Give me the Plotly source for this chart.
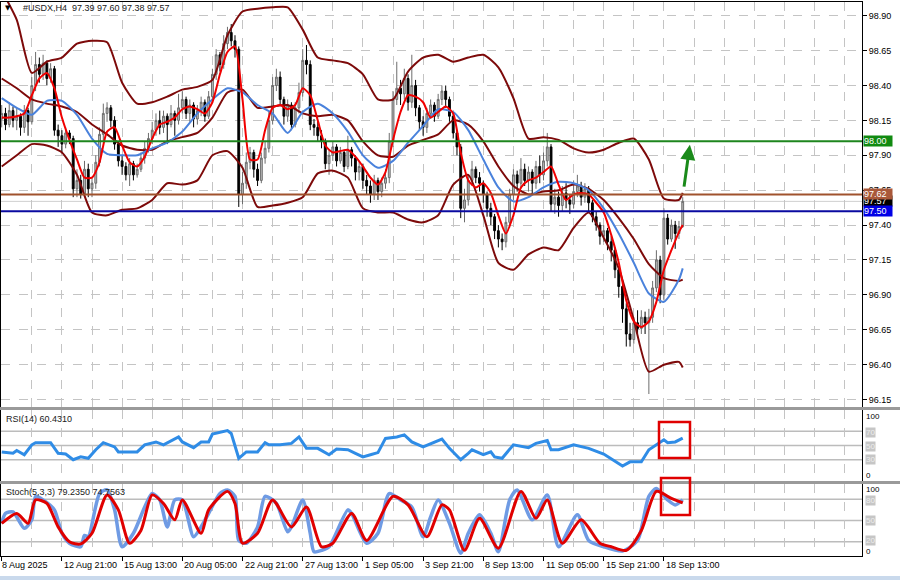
import plotly.graph_objects as go

# ---------------- data ----------------
bar_idx = list(range(182))

opens = [98.16, 98.20, 98.12, 98.22, 98.15, 98.18, 98.10, 98.22, 98.14, 98.40,
         98.55, 98.48, 98.56, 98.45, 98.52, 98.08, 98.04, 97.98, 98.06, 98.02,
         97.66, 97.72, 97.62, 97.80, 97.66, 97.70, 97.85, 98.05, 98.20, 98.24,
         98.15, 97.98, 97.86, 97.82, 97.76, 97.84, 97.76, 97.80, 97.88, 97.95,
         98.02, 98.08, 98.15, 98.10, 98.18, 98.12, 98.20, 98.15, 98.24, 98.30,
         98.20, 98.26, 98.16, 98.22, 98.28, 98.18, 98.32, 98.48, 98.62, 98.55,
         98.70, 98.78, 98.72, 98.66, 97.62, 97.70, 97.85, 97.92, 97.80, 97.72,
         97.88, 97.95, 98.15, 98.40, 98.46, 98.30, 98.18, 98.26, 98.12, 98.24,
         98.35, 98.58, 98.55, 98.12, 98.10, 98.04, 98.00, 97.84, 97.90, 97.96,
         97.86, 97.92, 97.82, 97.94, 97.88, 97.78, 97.82, 97.72, 97.68, 97.62,
         97.72, 97.64, 97.70, 97.74, 98.00, 98.30, 98.38, 98.34, 98.45, 98.28,
         98.40, 98.24, 98.14, 98.10, 98.20, 98.26, 98.18, 98.30, 98.36, 98.30,
         98.18, 98.06, 97.96, 97.52, 97.58, 97.72, 97.80, 97.74, 97.70, 97.62,
         97.52, 97.46, 97.36, 97.30, 97.28, 97.42, 97.62, 97.76, 97.70, 97.80,
         97.72, 97.78, 97.70, 97.82, 97.76, 97.86, 97.96, 97.55, 97.60, 97.54,
         97.63, 97.58, 97.55, 97.64, 97.68, 97.60, 97.66, 97.56, 97.46, 97.40,
         97.32, 97.36, 97.28, 97.22, 97.08, 96.96, 96.80, 96.62, 96.58, 96.70,
         96.66, 96.74, 96.70, 96.74, 96.95, 97.15, 96.90, 97.45, 97.30, 97.40,
         97.34, 97.39]

highs = [98.26, 98.24, 98.28, 98.25, 98.24, 98.20, 98.26, 98.24, 98.46, 98.64,
         98.60, 98.62, 98.58, 98.56, 98.54, 98.12, 98.08, 98.10, 98.08, 98.04,
         97.80, 97.76, 97.86, 97.84, 97.74, 97.90, 98.10, 98.27, 98.28, 98.26,
         98.18, 98.00, 97.90, 97.85, 97.88, 97.86, 97.84, 97.92, 98.00, 98.06,
         98.14, 98.20, 98.22, 98.22, 98.20, 98.26, 98.22, 98.34, 98.36, 98.32,
         98.30, 98.28, 98.26, 98.32, 98.30, 98.36, 98.52, 98.66, 98.64, 98.76,
         98.82, 98.84, 98.76, 98.68, 97.78, 97.92, 97.96, 97.94, 97.84, 97.92,
         98.00, 98.22, 98.46, 98.52, 98.50, 98.32, 98.30, 98.28, 98.28, 98.42,
         98.66, 98.69, 98.58, 98.16, 98.14, 98.08, 98.02, 97.94, 98.00, 97.98,
         97.96, 97.94, 98.04, 97.96, 97.90, 97.86, 97.84, 97.76, 97.72, 97.76,
         97.74, 97.74, 97.80, 98.06, 98.36, 98.57, 98.44, 98.52, 98.48, 98.62,
         98.44, 98.26, 98.18, 98.24, 98.30, 98.28, 98.34, 98.40, 98.40, 98.32,
         98.20, 98.08, 97.98, 97.66, 97.76, 97.86, 97.82, 97.78, 97.72, 97.64,
         97.56, 97.48, 97.40, 97.34, 97.46, 97.66, 97.80, 97.79, 97.88, 97.84,
         97.82, 97.80, 97.86, 97.90, 97.92, 98.06, 97.98, 97.66, 97.64, 97.68,
         97.70, 97.62, 97.72, 97.76, 97.71, 97.70, 97.68, 97.58, 97.50, 97.42,
         97.40, 97.38, 97.32, 97.24, 97.10, 96.98, 96.84, 96.70, 96.74, 96.79,
         96.79, 96.78, 96.80, 97.00, 97.22, 97.18, 97.52, 97.48, 97.44, 97.43,
         97.43, 97.60]

lows = [98.10, 98.08, 98.10, 98.10, 98.08, 98.04, 98.06, 98.04, 98.12, 98.36,
        98.42, 98.44, 98.40, 98.42, 98.04, 97.96, 97.92, 97.95, 97.98, 97.60,
        97.60, 97.59, 97.60, 97.60, 97.60, 97.66, 97.82, 98.00, 98.14, 98.10,
        97.94, 97.82, 97.76, 97.72, 97.68, 97.72, 97.74, 97.78, 97.84, 97.92,
        97.98, 98.04, 98.05, 98.06, 97.98, 98.10, 98.04, 98.12, 98.20, 98.16,
        98.14, 98.10, 98.12, 98.18, 98.14, 98.16, 98.28, 98.44, 98.50, 98.52,
        98.66, 98.68, 98.60, 97.53, 97.55, 97.66, 97.80, 97.74, 97.68, 97.70,
        97.84, 97.92, 98.12, 98.36, 98.26, 98.12, 98.14, 98.08, 98.10, 98.20,
        98.32, 98.48, 98.08, 98.04, 98.00, 97.95, 97.80, 97.76, 97.86, 97.82,
        97.84, 97.78, 97.80, 97.82, 97.72, 97.72, 97.66, 97.62, 97.56, 97.58,
        97.58, 97.60, 97.66, 97.70, 97.96, 98.26, 98.26, 98.30, 98.22, 98.24,
        98.18, 98.08, 98.04, 98.06, 98.16, 98.14, 98.16, 98.26, 98.24, 98.14,
        98.02, 97.90, 97.45, 97.42, 97.54, 97.68, 97.70, 97.64, 97.56, 97.46,
        97.40, 97.30, 97.24, 97.22, 97.24, 97.38, 97.58, 97.64, 97.66, 97.68,
        97.64, 97.62, 97.66, 97.70, 97.72, 97.82, 97.50, 97.48, 97.46, 97.50,
        97.52, 97.48, 97.52, 97.60, 97.54, 97.56, 97.50, 97.42, 97.36, 97.26,
        97.28, 97.22, 97.14, 97.02, 96.88, 96.70, 96.53, 96.53, 96.55, 96.62,
        96.62, 96.62, 96.19, 96.70, 96.92, 96.84, 96.86, 97.26, 97.28, 97.23,
        97.30, 97.38]

closes = [98.20, 98.12, 98.22, 98.15, 98.18, 98.10, 98.22, 98.14, 98.40, 98.55,
          98.48, 98.56, 98.45, 98.52, 98.08, 98.04, 97.98, 98.06, 98.02, 97.66,
          97.72, 97.62, 97.80, 97.66, 97.70, 97.85, 98.05, 98.20, 98.24, 98.15,
          97.98, 97.86, 97.82, 97.76, 97.84, 97.76, 97.80, 97.88, 97.95, 98.02,
          98.08, 98.15, 98.10, 98.18, 98.12, 98.20, 98.15, 98.24, 98.30, 98.20,
          98.26, 98.16, 98.22, 98.28, 98.18, 98.32, 98.48, 98.62, 98.55, 98.70,
          98.78, 98.72, 98.66, 97.62, 97.70, 97.85, 97.92, 97.80, 97.72, 97.88,
          97.95, 98.15, 98.40, 98.46, 98.30, 98.18, 98.26, 98.12, 98.24, 98.35,
          98.58, 98.55, 98.12, 98.10, 98.04, 98.00, 97.84, 97.90, 97.96, 97.86,
          97.92, 97.82, 97.94, 97.88, 97.78, 97.82, 97.72, 97.68, 97.62, 97.72,
          97.64, 97.70, 97.74, 98.00, 98.30, 98.38, 98.34, 98.45, 98.28, 98.40,
          98.24, 98.14, 98.10, 98.20, 98.26, 98.18, 98.30, 98.36, 98.30, 98.18,
          98.06, 97.96, 97.52, 97.58, 97.72, 97.80, 97.74, 97.70, 97.62, 97.52,
          97.46, 97.36, 97.30, 97.28, 97.42, 97.62, 97.76, 97.70, 97.80, 97.72,
          97.78, 97.70, 97.82, 97.76, 97.86, 97.96, 97.55, 97.60, 97.54, 97.63,
          97.58, 97.55, 97.64, 97.68, 97.60, 97.66, 97.56, 97.46, 97.40, 97.32,
          97.36, 97.28, 97.22, 97.08, 96.96, 96.80, 96.62, 96.58, 96.70, 96.66,
          96.74, 96.70, 96.74, 96.95, 97.15, 96.90, 97.45, 97.30, 97.40, 97.34,
          97.39, 97.57]

# Bollinger bands and slow MA, read every 4 bars
band_idx = list(range(0, 181, 4)) + [181]
bb_upper = [99.08, 98.87, 98.49, 98.57, 98.60, 98.70, 98.72, 98.71, 98.42, 98.27,
            98.28, 98.32, 98.37, 98.39, 98.44, 98.76, 98.93, 98.95, 98.96, 98.96,
            98.80, 98.60, 98.58, 98.56, 98.48, 98.30, 98.30, 98.50, 98.60, 98.62,
            98.57, 98.60, 98.62, 98.53, 98.31, 98.02, 98.03, 98.01, 97.95, 97.92,
            97.94, 97.99, 98.02, 97.87, 97.59, 97.58, 97.63]
bb_mid = [98.45, 98.38, 98.30, 98.27, 98.25, 98.21, 98.12, 98.05, 97.97, 97.94,
          97.94, 98.00, 98.03, 98.06, 98.17, 98.35, 98.37, 98.24, 98.25, 98.26,
          98.20, 98.18, 98.19, 98.15, 98.00, 97.90, 97.89, 97.97, 98.01, 98.05,
          98.15, 98.12, 98.00, 97.82, 97.68, 97.62, 97.64, 97.65, 97.69, 97.66,
          97.58, 97.45, 97.30, 97.12, 97.02, 97.00, 97.01]
bb_lower = [97.82, 97.90, 97.98, 97.97, 97.92, 97.76, 97.49, 97.47, 97.51, 97.52,
            97.58, 97.70, 97.69, 97.72, 97.90, 97.93, 97.81, 97.53, 97.54, 97.56,
            97.60, 97.77, 97.79, 97.74, 97.52, 97.49, 97.49, 97.44, 97.42, 97.47,
            97.69, 97.76, 97.47, 97.13, 97.08, 97.19, 97.24, 97.22, 97.38, 97.49,
            97.31, 97.09, 96.72, 96.35, 96.40, 96.42, 96.38]
ma_blue = [98.31, 98.24, 98.19, 98.29, 98.29, 98.19, 98.02, 97.91, 97.90, 97.90,
           97.95, 97.99, 98.07, 98.20, 98.30, 98.38, 98.35, 98.26, 98.20, 98.06,
           98.21, 98.27, 98.20, 98.07, 97.90, 97.81, 97.86, 97.99, 98.11, 98.23,
           98.21, 98.08, 97.87, 97.67, 97.57, 97.60, 97.67, 97.71, 97.70, 97.65,
           97.52, 97.34, 97.13, 96.91, 96.85, 97.01, 97.09]

# fast MA, read every 2 bars
red_idx = list(range(0, 181, 2)) + [181]
ma_red = [98.17, 98.17, 98.18, 98.20, 98.33, 98.45, 98.49, 98.38, 98.17, 98.01,
          97.87, 97.74, 97.74, 97.85, 98.07, 98.10, 97.97, 97.85, 97.82, 97.89,
          98.02, 98.12, 98.14, 98.17, 98.23, 98.25, 98.23, 98.20, 98.28, 98.48,
          98.64, 98.68, 98.30, 97.87, 97.87, 98.08, 98.24, 98.26, 98.23, 98.26,
          98.38, 98.33, 98.15, 97.97, 97.92, 97.93, 97.94, 97.89, 97.82, 97.74,
          97.69, 97.78, 98.01, 98.21, 98.33, 98.32, 98.28, 98.17, 98.21, 98.25,
          98.20, 97.92, 97.72, 97.67, 97.70, 97.63, 97.47, 97.34, 97.47, 97.67,
          97.72, 97.74, 97.78, 97.82, 97.69, 97.58, 97.62, 97.63, 97.62, 97.56,
          97.49, 97.33, 97.13, 96.86, 96.71, 96.67, 96.71, 96.85, 97.08, 97.22,
          97.35, 97.40]

# RSI(14)
rsi_idx = [0, 3, 4, 6, 8, 9, 13, 15, 17, 19, 21, 23, 25, 27, 30, 31, 36, 38, 41, 43,
           47, 48, 51, 53, 55, 56, 60, 61, 63, 65, 68, 70, 71, 74, 77, 79, 80, 81, 84, 87,
           89, 92, 94, 96, 98, 100, 102, 105, 107, 109, 112, 115, 117, 119, 122, 124, 125, 128, 130, 131,
           133, 136, 140, 142, 145, 146, 148, 152, 156, 160, 165, 167, 170, 172, 174, 176, 177, 179, 181]
rsi = [41, 39, 43, 37, 51, 54, 54, 39, 38, 30, 34, 32, 44, 54, 48, 41, 41, 51, 55, 51,
       62, 55, 47, 55, 55, 66, 71, 67, 32, 41, 41, 54, 51, 51, 53, 62, 54, 46, 46, 37,
       45, 44, 39, 34, 37, 40, 60, 62, 65, 55, 48, 55, 59, 46, 30, 39, 44, 37, 41, 34,
       32, 51, 47, 53, 57, 44, 44, 51, 46, 38, 21, 27, 27, 44, 51, 58, 54, 55, 60.43]

# Stochastic (5,3,3)
stoch_k_idx = [0, 1, 3, 6, 8, 9, 11, 14, 16, 18, 21, 22, 23, 26, 28, 30, 32, 35, 38, 40,
               42, 44, 46, 48, 51, 53, 55, 58, 60, 62, 63, 65, 68, 70, 73, 76, 77, 80, 82, 83,
               85, 87, 92, 93, 97, 100, 103, 106, 109, 112, 114, 116, 119, 122, 124, 127, 130, 132, 135, 137,
               141, 145, 148, 153, 156, 160, 165, 169, 172, 174, 177, 179, 181]
stoch_k = [46, 60, 62, 39, 51, 84, 79, 65, 32, 18, 13, 29, 27, 88, 93, 65, 13, 32, 69, 88,
           79, 41, 79, 79, 27, 41, 60, 88, 93, 84, 22, 18, 41, 84, 74, 34, 41, 79, 32, 6,
           8, 13, 65, 60, 18, 32, 88, 79, 69, 27, 55, 79, 46, 4, 32, 58, 32, 6, 79, 93,
           51, 86, 13, 58, 22, 13, 7, 22, 84, 95, 79, 72, 79.24]
stoch_d_idx = [0, 4, 7, 9, 12, 15, 18, 21, 24, 28, 31, 34, 37, 40, 43, 46, 48, 53, 55, 60,
               62, 64, 68, 72, 77, 81, 85, 88, 93, 97, 104, 108, 113, 117, 119, 123, 127, 132, 138, 142,
               145, 149, 154, 159, 162, 166, 170, 174, 178, 181]
stoch_d = [46, 60, 46, 79, 74, 41, 20, 17, 32, 86, 65, 18, 36, 86, 74, 51, 79, 32, 65, 91,
           74, 18, 32, 79, 41, 69, 13, 18, 60, 22, 84, 72, 27, 72, 65, 8, 53, 11, 91, 53,
           79, 18, 51, 18, 13, 8, 36, 91, 81, 74.76]

price_ticks = [96.15, 96.40, 96.65, 96.90, 97.15, 97.40, 97.65, 97.90, 98.15, 98.40, 98.65, 98.90]
x_label_idx = [0, 16, 32, 48, 64, 80, 96, 112, 128, 144, 160, 176]
x_labels = ["8 Aug 2025", "12 Aug 21:00", "15 Aug 13:00", "20 Aug 05:00", "22 Aug 21:00",
            "27 Aug 13:00", "1 Sep 05:00", "3 Sep 21:00", "8 Sep 13:00", "11 Sep 05:00",
            "15 Sep 21:00", "18 Sep 13:00"]
rsi_levels = [30, 50, 70]
stoch_levels = [20, 50, 80]
level_green = 98.00
level_brown = 97.62
level_blue = 97.50
last_price = 97.57
arrow_from = (181.3, 97.665)
arrow_to = (182.9, 97.975)

# ---------------- geometry ----------------
W, H = 900, 580
ML, MR, MT, MB = 1, 38, 2, 24
PH = H - MT - MB


def py(pix):  # pixel row -> paper y
    return (H - MB - pix) / PH


def px(pix):  # pixel column -> paper x
    return (pix - ML) / (W - ML - MR)


X_RANGE = [-0.19, 228.65]
MAIN_DOM = [py(407), 1.0]
RSI_DOM = [py(481), py(410)]
STO_DOM = [0.0, py(484)]
GRID = "#c4c4c4"
FONT = "Liberation Sans, Arial, sans-serif"

fig = go.Figure()

fig.add_trace(go.Candlestick(
    x=bar_idx, open=opens, high=highs, low=lows, close=closes,
    increasing=dict(line=dict(color="#6c6c6c", width=1), fillcolor="#bdbdbd"),
    decreasing=dict(line=dict(color="#000000", width=1), fillcolor="#000000"),
    whiskerwidth=0, showlegend=False, hoverinfo="skip", xaxis="x", yaxis="y"))

for vals in (bb_upper, bb_mid, bb_lower):
    fig.add_trace(go.Scatter(x=band_idx, y=vals, mode="lines",
                             line=dict(color="#7d0a0a", width=2, shape="spline", smoothing=0.6),
                             hoverinfo="skip", showlegend=False, xaxis="x", yaxis="y"))
fig.add_trace(go.Scatter(x=band_idx, y=ma_blue, mode="lines",
                         line=dict(color="#4a82dc", width=2, shape="spline", smoothing=0.6),
                         hoverinfo="skip", showlegend=False, xaxis="x", yaxis="y"))
fig.add_trace(go.Scatter(x=red_idx, y=ma_red, mode="lines",
                         line=dict(color="#f00000", width=2, shape="spline", smoothing=0.6),
                         hoverinfo="skip", showlegend=False, xaxis="x", yaxis="y"))

fig.add_trace(go.Scatter(x=rsi_idx, y=rsi, mode="lines",
                         line=dict(color="#2f8ce6", width=3),
                         hoverinfo="skip", showlegend=False, xaxis="x2", yaxis="y2"))

fig.add_trace(go.Scatter(x=stoch_k_idx, y=stoch_k, mode="lines",
                         line=dict(color="#6f9be4", width=3.5, shape="spline", smoothing=0.7),
                         hoverinfo="skip", showlegend=False, xaxis="x3", yaxis="y3"))
fig.add_trace(go.Scatter(x=stoch_d_idx, y=stoch_d, mode="lines",
                         line=dict(color="#e00000", width=3, shape="spline", smoothing=0.7),
                         hoverinfo="skip", showlegend=False, xaxis="x3", yaxis="y3"))

common_x = dict(range=X_RANGE, showline=True, linecolor="black", linewidth=1, mirror=True,
                zeroline=False, fixedrange=True, showticklabels=False)
fig.update_layout(
    width=W, height=H, margin=dict(l=ML, r=MR, t=MT, b=MB, autoexpand=False),
    paper_bgcolor="white", plot_bgcolor="white", showlegend=False,
    hovermode=False, dragmode=False,
    font=dict(family=FONT, size=9, color="black"),
    xaxis=dict(domain=[0, 1], anchor="y", tickmode="linear", tick0=0, dtick=8, ticks="",
               showgrid=True, gridcolor=GRID, griddash="dash", gridwidth=1,
               rangeslider=dict(visible=False), **common_x),
    yaxis=dict(domain=MAIN_DOM, anchor="x", side="right", range=[96.097, 98.998],
               tickmode="array", tickvals=price_ticks,
               ticktext=[f"{v:.2f}" for v in price_ticks],
               ticks="outside", ticklen=4, tickcolor="black",
               tickfont=dict(family=FONT, size=9, color="black"),
               showgrid=True, gridcolor=GRID, griddash="dash",
               showline=True, linecolor="black", mirror=True, zeroline=False, fixedrange=True),
    xaxis2=dict(domain=[0, 1], anchor="y2", matches="x", tickmode="linear", tick0=0, dtick=8,
                ticks="", showgrid=True, gridcolor=GRID, griddash="dash", **common_x),
    yaxis2=dict(domain=RSI_DOM, anchor="x2", side="right", range=[0, 100], showticklabels=False,
                ticks="", showgrid=False, showline=True, linecolor="black", mirror=True,
                zeroline=False, fixedrange=True),
    xaxis3=dict(domain=[0, 1], anchor="y3", matches="x", tickmode="array", tickvals=x_label_idx,
                ticks="outside", ticklen=4, tickcolor="black",
                showgrid=True, gridcolor=GRID, griddash="dash",
                minor=dict(tickmode="linear", tick0=0, dtick=8, showgrid=True,
                           gridcolor=GRID, griddash="dash", ticks=""),
                **common_x),
    yaxis3=dict(domain=STO_DOM, anchor="x3", side="right", range=[0, 101.4], showticklabels=False,
                ticks="", showgrid=False, showline=True, linecolor="black", mirror=True,
                zeroline=False, fixedrange=True),
)

shapes = []
for lv in rsi_levels:
    shapes.append(dict(type="line", xref="paper", yref="y2", x0=0, x1=1, y0=lv, y1=lv,
                       line=dict(color="#bcbcbc", width=1.5), layer="below"))
for lv in stoch_levels:
    shapes.append(dict(type="line", xref="paper", yref="y3", x0=0, x1=1, y0=lv, y1=lv,
                       line=dict(color="#bcbcbc", width=1.5), layer="below"))
shapes.append(dict(type="line", xref="paper", yref="y", x0=0, x1=1, y0=last_price, y1=last_price,
                   line=dict(color="#cfcfcf", width=1), layer="below"))
shapes.append(dict(type="line", xref="paper", yref="y", x0=0, x1=1, y0=level_green, y1=level_green,
                   line=dict(color="#1e861e", width=2), layer="above"))
shapes.append(dict(type="line", xref="paper", yref="y", x0=0, x1=1, y0=level_brown, y1=level_brown,
                   line=dict(color="#a0522d", width=2), layer="above"))
shapes.append(dict(type="line", xref="paper", yref="y", x0=0, x1=1, y0=level_blue, y1=level_blue,
                   line=dict(color="#0a0aa0", width=2), layer="above"))
for top, bot in ((407, 410), (481, 484)):
    shapes.append(dict(type="rect", xref="paper", yref="paper", x0=px(0), x1=px(900),
                       y0=py(bot), y1=py(top), fillcolor="#9a9a9a", line=dict(width=0)))
shapes.append(dict(type="rect", xref="paper", yref="paper", x0=px(659), x1=px(690),
                   y0=py(458), y1=py(422), line=dict(color="#e00000", width=2.5)))
shapes.append(dict(type="rect", xref="paper", yref="paper", x0=px(661), x1=px(690),
                   y0=py(515), y1=py(478), line=dict(color="#e00000", width=2.5)))
shapes.append(dict(type="rect", xref="paper", yref="paper", x0=px(0), x1=px(900),
                   y0=py(580), y1=py(576), fillcolor="#c9d9ec", line=dict(width=0)))
fig.update_layout(shapes=shapes)

ann = []
ann.append(dict(x=px(3), y=py(8), xref="paper", yref="paper", text="▼", showarrow=False,
                xanchor="left", yanchor="middle", font=dict(family="DejaVu Sans", size=7, color="black")))
ann.append(dict(x=px(21), y=py(8), xref="paper", yref="paper",
                text="#USDX,H4  97.39 97.60 97.38 97.57", showarrow=False,
                xanchor="left", yanchor="middle", font=dict(family=FONT, size=9, color="#202020")))
ann.append(dict(x=px(4), y=py(419), xref="paper", yref="paper", text="RSI(14) 60.4310",
                showarrow=False, xanchor="left", yanchor="middle",
                font=dict(family=FONT, size=9, color="#202020")))
ann.append(dict(x=px(4), y=py(492), xref="paper", yref="paper",
                text="Stoch(5,3,3) 79.2350 74.7563", showarrow=False, xanchor="left",
                yanchor="middle", font=dict(family=FONT, size=9, color="#202020")))

for idx, lab in zip(x_label_idx, x_labels):
    ann.append(dict(x=idx, y=py(565), xref="x3", yref="paper", text=lab, showarrow=False,
                    xanchor="left", yanchor="middle", xshift=-2 if idx == 0 else 0,
                    font=dict(family=FONT, size=9, color="black")))


def side_label(text, pix, boxed=False):
    d = dict(x=1, y=py(pix), xref="paper", yref="paper", text=text, showarrow=False,
             xanchor="left", yanchor="middle", xshift=3, borderpad=0,
             font=dict(family=FONT, size=8, color="black"))
    if boxed:
        d["bgcolor"] = "#c6c6c6"
        d["font"] = dict(family=FONT, size=8, color="#eeeeee")
    return d


ann += [side_label("100", 416), side_label("70", 432.5, True), side_label("50", 446, True),
        side_label("30", 459.5, True), side_label("0", 475)]
ann += [side_label("100", 489.5), side_label("80", 500, True), side_label("50", 520.5, True),
        side_label("20", 540.5, True), side_label("0", 551.5)]


def price_box(val, bg, fg="white"):
    return dict(x=1, y=val, xref="paper", yref="y", text=f"{val:.2f}", showarrow=False,
                xanchor="left", yanchor="middle", xshift=1, bgcolor=bg, borderpad=0,
                width=28, height=10, align="left", font=dict(family=FONT, size=9, color=fg))


ann.append(price_box(level_green, "#118a11"))
ann.append(price_box(last_price, "#000000"))
ann.append(price_box(level_brown, "#a9583a"))
ann.append(price_box(level_blue, "#0000e6"))

ann.append(dict(x=arrow_to[0], y=arrow_to[1], ax=arrow_from[0], ay=arrow_from[1],
                xref="x", yref="y", axref="x", ayref="y", text="", showarrow=True,
                arrowhead=2, arrowsize=1, arrowwidth=3, arrowcolor="#1a8a1a", standoff=0))

fig.update_layout(annotations=ann)

fig.write_html("out.html", config={"displayModeBar": False, "staticPlot": True},
               post_script="document.body.style.margin='0px';document.body.style.padding='0px';")
